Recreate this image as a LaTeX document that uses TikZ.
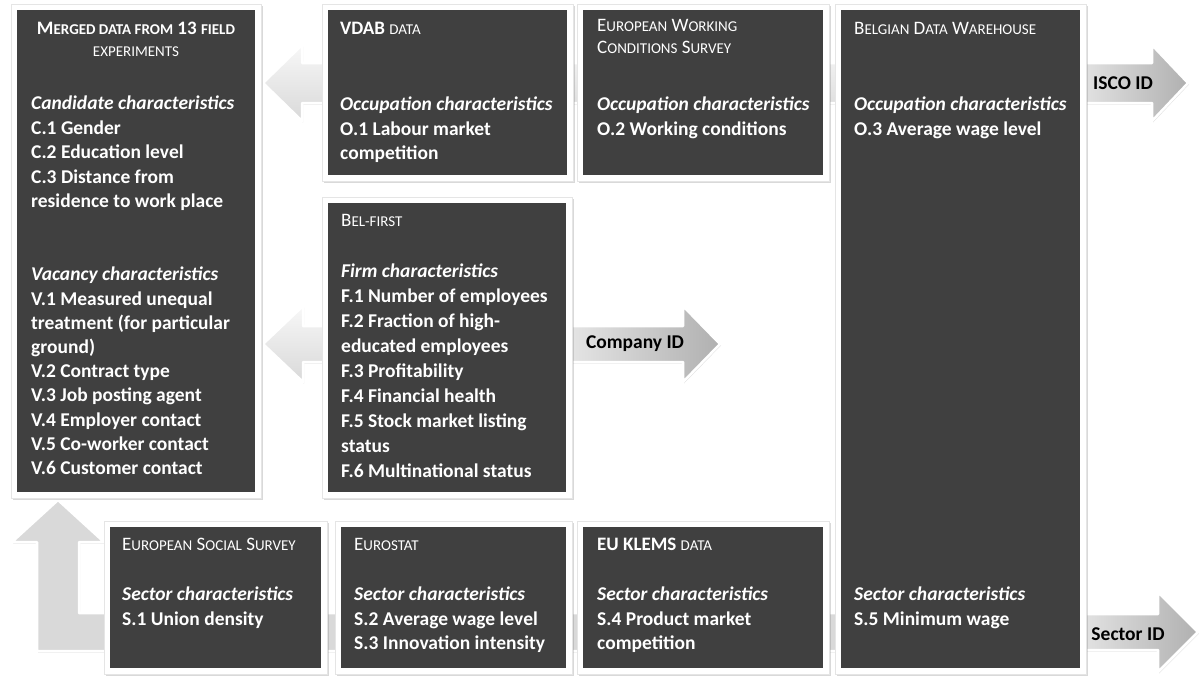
\documentclass[tikz,border=0pt]{standalone}
\usepackage{fontspec}
\setmainfont{Carlito}
\usetikzlibrary{shadows}

\definecolor{boxgray}{HTML}{404040}
% fake small caps for the source titles
\newcommand\scaps[1]{{\fontsize{15}{15}\selectfont\MakeUppercase{#1}}}

\tikzset{
  databox/.style={anchor=north west, inner sep=0pt, fill=white, draw=black!10, line width=0.4pt,
    drop shadow={shadow xshift=1.5pt, shadow yshift=-2pt, opacity=.3},
    path picture={\fill[boxgray] ([shift={(6pt,-6pt)}]path picture bounding box.north west)
      rectangle ([shift={(-6pt,6pt)}]path picture bounding box.south east);}},
  boxhead/.style={anchor=north west, inner sep=0pt, text=white, font=\fontsize{19}{22}\selectfont, align=left,
    execute at begin node=\rule{0pt}{15pt}},
  boxtext/.style={anchor=north west, inner sep=0pt, text=white, font=\bfseries\fontsize{19.5}{24.5}\selectfont, align=left,
    execute at begin node=\rule{0pt}{15pt}},
  blockarrow/.style={draw=white, line width=2.5pt, line join=round,
    drop shadow={shadow xshift=1pt, shadow yshift=-1.5pt, opacity=.25}},
  leftarrow/.style={blockarrow, top color=gray!6, bottom color=gray!30},
  idarrow/.style={blockarrow, left color=gray!18, right color=gray!62},
  idlabel/.style={font=\bfseries\fontsize{19.5}{19.5}\selectfont, text=black, inner sep=0pt}
}

\begin{document}
\begin{tikzpicture}[x=1pt, y=-1pt]
    \useasboundingbox (0,0) rectangle (1203,680);

    % ISCO ID link
    \path[leftarrow] (263,83) -- (302,45) -- (302,63) -- (860,63) -- (860,103) -- (302,103) -- (302,121) -- cycle;
    \path[idarrow] (1070,63) -- (1152,63) -- (1152,45) -- (1188,83) -- (1152,121) -- (1152,103) -- (1070,103) -- cycle;

    % Company ID link
    \path[leftarrow] (263,344) -- (303,306) -- (303,326) -- (400,326) -- (400,362) -- (303,362) -- (303,382) -- cycle;
    \path[idarrow] (560,326) -- (683,326) -- (683,306) -- (720,344) -- (683,382) -- (683,362) -- (560,362) -- cycle;

    % Sector ID link
    \path[blockarrow, fill=gray!30] (58,500) -- (104,542) -- (79,542) -- (79,613) -- (900,613) -- (900,651)
        -- (37,651) -- (37,542) -- (12,542) -- cycle;
    \path[idarrow] (1070,614) -- (1158,614) -- (1158,592) -- (1198,632) -- (1158,672) -- (1158,650) -- (1070,650) -- cycle;

    % data sources
    \node[databox, minimum width=250pt, minimum height=494pt] (merged) at (11,4) {};
    \node[databox, minimum width=251pt, minimum height=177pt] (vdab) at (322,4) {};
    \node[databox, minimum width=252pt, minimum height=177pt] (ewcs) at (577,4) {};
    \node[databox, minimum width=251pt, minimum height=670pt] (bdw) at (835,4) {};
    \node[databox, minimum width=250pt, minimum height=301pt] (belfirst) at (322,197) {};
    \node[databox, minimum width=223pt, minimum height=153pt] (ess) at (104,521) {};
    \node[databox, minimum width=237pt, minimum height=153pt] (eurostat) at (335,521) {};
    \node[databox, minimum width=252pt, minimum height=153pt] (klems) at (577,521) {};

    % merged experiments
    \node[boxhead, anchor=north, align=center] (mergedhead) at (136,22)
        {\bfseries M\scaps{erged data from} 13 \scaps{field}\\ \scaps{experiments}};
    \node[boxtext] (mergedcand) at (31,96) {\textit{Candidate characteristics}\\ C.1 Gender\\ C.2 Education level\\
        C.3 Distance from\\ residence to work place};
    \node[boxtext, font=\bfseries\fontsize{19.5}{24.2}\selectfont] (mergedvac) at (31,267) {\textit{Vacancy characteristics}\\
        V.1 Measured unequal\\ treatment (for particular\\ ground)\\ V.2 Contract type\\ V.3 Job posting agent\\
        V.4 Employer contact\\ V.5 Co-worker contact\\ V.6 Customer contact};

    % occupation sources
    \node[boxhead] (vdabhead) at (340,19) {\textbf{VDAB} \scaps{data}};
    \node[boxtext] (vdabtext) at (340,97) {\textit{Occupation characteristics}\\ O.1 Labour market\\ competition};
    \node[boxhead] (ewcshead) at (597,19) {E\scaps{uropean} W\scaps{orking}\\ C\scaps{onditions} S\scaps{urvey}};
    \node[boxtext] (ewcstext) at (597,97) {\textit{Occupation characteristics}\\ O.2 Working conditions};
    \node[boxhead] (bdwhead) at (854,19) {B\scaps{elgian} D\scaps{ata} W\scaps{arehouse}};
    \node[boxtext] (bdwocc) at (854,97) {\textit{Occupation characteristics}\\ O.3 Average wage level};
    \node[boxtext] (bdwsec) at (854,587) {\textit{Sector characteristics}\\ S.5 Minimum wage};

    % firm source
    \node[boxhead] (belfirsthead) at (341,211) {B\scaps{el-first}};
    \node[boxtext, font=\bfseries\fontsize{19.5}{24.9}\selectfont] (belfirsttext) at (341,264) {\textit{Firm characteristics}\\
        F.1 Number of employees\\ F.2 Fraction of high-\\ educated employees\\ F.3 Profitability\\ F.4 Financial health\\
        F.5 Stock market listing\\ status\\ F.6 Multinational status};

    % sector sources
    \node[boxhead] (esshead) at (122,535) {E\scaps{uropean} S\scaps{ocial} S\scaps{urvey}};
    \node[boxtext] (esstext) at (122,587) {\textit{Sector characteristics}\\ S.1 Union density};
    \node[boxhead] (eurostathead) at (354,535) {E\scaps{urostat}};
    \node[boxtext] (eurostattext) at (354,587) {\textit{Sector characteristics}\\ S.2 Average wage level\\ S.3 Innovation intensity};
    \node[boxhead] (klemshead) at (597,535) {\textbf{EU KLEMS} \scaps{data}};
    \node[boxtext] (klemstext) at (597,587) {\textit{Sector characteristics}\\ S.4 Product market\\ competition};

    % link labels
    \node[idlabel] (isco) at (1123,83) {ISCO ID};
    \node[idlabel] (company) at (635,344) {Company ID};
    \node[idlabel] (sector) at (1128,634) {Sector ID};
\end{tikzpicture}
\end{document}
